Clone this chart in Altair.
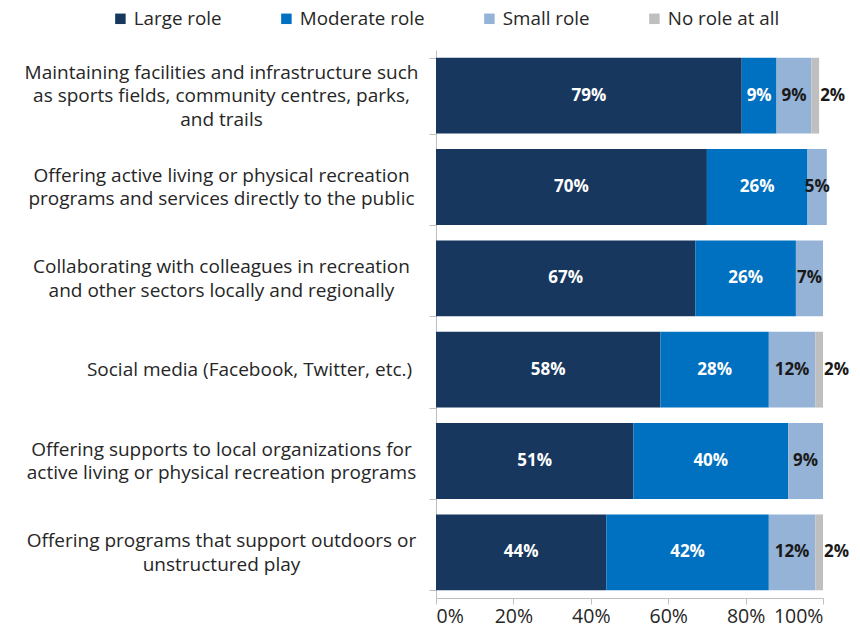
import altair as alt
import pandas as pd

categories = [
    "Maintaining facilities and infrastructure such|as sports fields, community centres, parks,|and trails",
    "Offering active living or physical recreation|programs and services directly to the public",
    "Collaborating with colleagues in recreation|and other sectors locally and regionally",
    "Social media (Facebook, Twitter, etc.)",
    "Offering supports to local organizations for|active living or physical recreation programs",
    "Offering programs that support outdoors or|unstructured play",
]
roles = ["Large role", "Moderate role", "Small role", "No role at all"]
large = [79, 70, 67, 58, 51, 44]
moderate = [9, 26, 26, 28, 40, 42]
small = [9, 5, 7, 12, 9, 12]
no_role = [2, 0, 0, 2, 0, 2]
colors = ["#17375E", "#0070C0", "#95B3D7", "#BFBFBF"]
x_ticks = [0, 20, 40, 60, 80, 100]

rows = []
for i, cat in enumerate(categories):
    start = 0
    for role, vals in zip(roles, [large, moderate, small, no_role]):
        v = vals[i]
        rows.append(dict(category=cat, role=role, value=v, start=start, end=start + v,
                         label=f"{v}%"))
        start += v
df = pd.DataFrame(rows)

FONT = "Open Sans"
AXIS_GRAY = "#BFBFBF"
TEXT = "#262626"
LINE_H = 23.5
BLANK_PAD = "\u2800" * 4  # invisible lead-in so a one-line label sits flush right

y_enc = alt.Y(
    "category:N",
    sort=categories,
    scale=alt.Scale(paddingInner=0.17, paddingOuter=0.085),
    axis=alt.Axis(
        title=None,
        labelExpr=(
            "indexof(datum.label, '|') < 0 ? '" + BLANK_PAD + "' + datum.label"
            " : split(datum.label, '|')"
        ),
        labelAlign="center",
        labelBaseline="middle",
        labelPadding=208,
        labelOffset={
            "condition": {"test": "true",
                          "expr": f"-{LINE_H / 2}*(length(split(datum.value, '|'))-1)"},
            "value": 0,
        },
        labelLimit=0,
        labelFontSize=19,
        labelLineHeight=LINE_H,
        labelFont=FONT,
        labelColor=TEXT,
        labelOverlap=False,
        tickBand="extent",
        tickSize=7,
        tickColor=AXIS_GRAY,
        domainColor=AXIS_GRAY,
        grid=False,
    ),
)

x_scale = alt.Scale(domain=[0, 100], nice=False)
x_axis = alt.Axis(
    title=None,
    values=x_ticks,
    labelExpr="datum.value + '%'",
    labelFontSize=19.5,
    labelFont=FONT,
    labelColor=TEXT,
    labelPadding=3,
    tickSize=6,
    tickColor=AXIS_GRAY,
    domainColor=AXIS_GRAY,
    grid=False,
)

base = alt.Chart(df)

bars = base.mark_bar().encode(
    x=alt.X("start:Q", scale=x_scale, axis=x_axis),
    x2="end:Q",
    y=y_enc,
    color=alt.Color(
        "role:N",
        scale=alt.Scale(domain=roles, range=colors),
        legend=alt.Legend(
            title=None,
            orient="none",
            legendX=-325,
            legendY=-41,
            direction="horizontal",
            symbolType="square",
            symbolSize=110,
            symbolStrokeWidth=0,
            labelFontSize=18.8,
            labelFont=FONT,
            labelColor=TEXT,
            labelOffset=4,
            labelLimit=0,
            columnPadding=55,
            padding=0,
        ),
    ),
)

white_labels = base.transform_filter(
    alt.FieldOneOfPredicate(field="role", oneOf=["Large role", "Moderate role"])
).transform_calculate(mid="(datum.start + datum.end) / 2").mark_text(
    color="white", fontWeight="bold", fontSize=17, font=FONT
).encode(
    x=alt.X("mid:Q", scale=x_scale, axis=x_axis),
    y=y_enc,
    text="label:N",
)

small_labels = base.transform_filter(
    (alt.datum.role == "Small role") & (alt.datum.value > 0)
).transform_calculate(mid="(datum.start + datum.end) / 2").mark_text(
    color="#1a1a1a", fontWeight="bold", fontSize=17, font=FONT
).encode(
    x=alt.X("mid:Q", scale=x_scale, axis=x_axis),
    y=y_enc,
    text="label:N",
)

none_labels = base.transform_filter(
    (alt.datum.role == "No role at all") & (alt.datum.value > 0)
).mark_text(
    color="#1a1a1a", fontWeight="bold", fontSize=17, font=FONT, align="left", dx=1
).encode(
    x=alt.X("end:Q", scale=x_scale, axis=x_axis),
    y=y_enc,
    text="label:N",
)

chart = alt.layer(bars, white_labels, small_labels, none_labels).properties(
    width=387,
    height=548,
    autosize=alt.AutoSizeParams(type="none"),
    padding={"left": 428, "top": 42, "right": 29, "bottom": 30},
).configure_view(stroke=None)

chart.save("out.html", embed_options={"renderer": "svg", "actions": False})
